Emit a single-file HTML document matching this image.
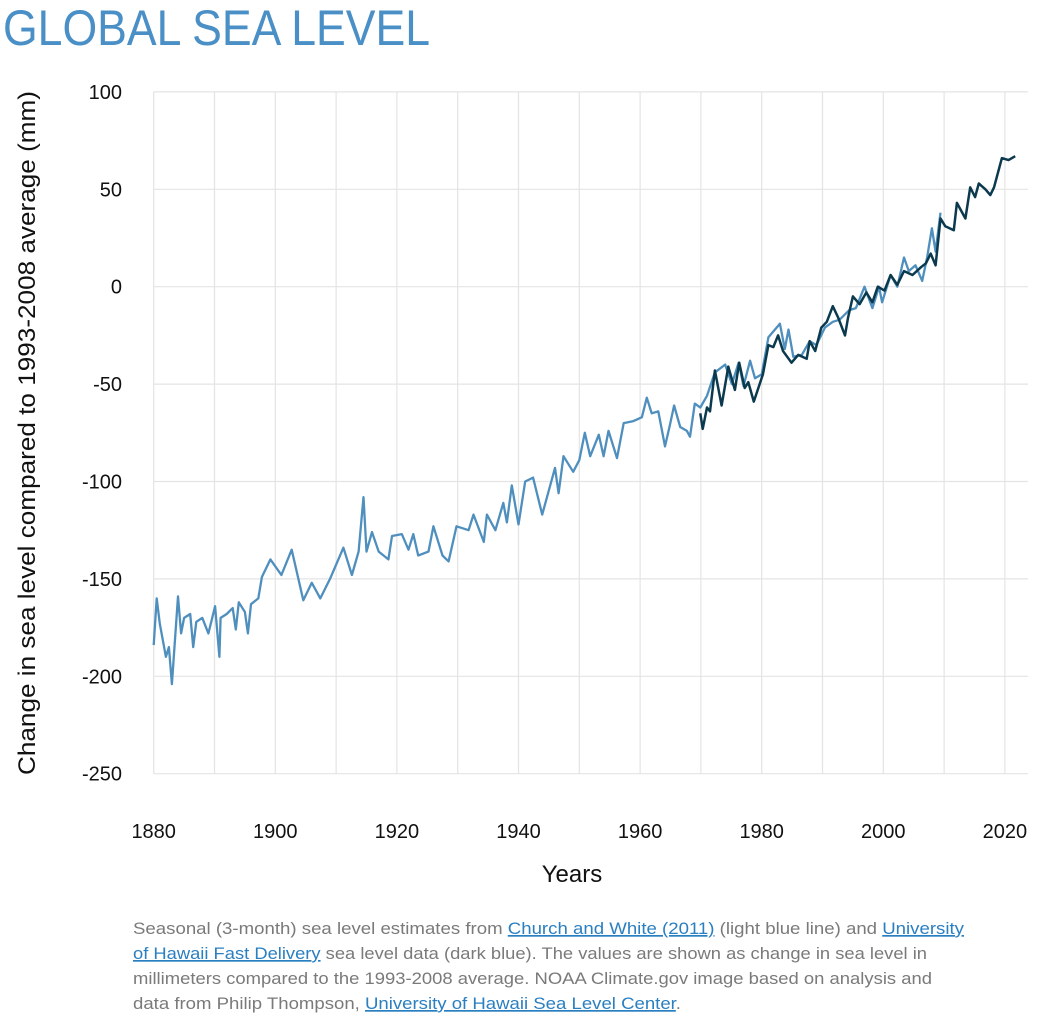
<!DOCTYPE html>
<html><head><meta charset="utf-8"><style>
html,body{margin:0;padding:0;background:#fff;}
svg{display:block;font-family:"Liberation Sans",sans-serif;}
</style></head><body>
<svg id="chart" width="1058" height="1024" viewBox="0 0 1058 1024">
<text x="3" y="45" font-size="50" fill="#4a8fc6" textLength="427" lengthAdjust="spacingAndGlyphs">GLOBAL SEA LEVEL</text>
<g id="grid"></g>
<g id="yticks"></g>
<g id="xticks"></g>
<text transform="translate(35,433) rotate(-90)" text-anchor="middle" font-size="24" fill="#111" textLength="684" lengthAdjust="spacingAndGlyphs">Change in sea level compared to 1993-2008 average (mm)</text>
<text x="572" y="882" text-anchor="middle" font-size="24" fill="#111">Years</text>
<g id="series"></g>
<g font-size="17" fill="#7a7a7a">
<text x="133" y="934" textLength="831" lengthAdjust="spacingAndGlyphs">Seasonal (3-month) sea level estimates from <tspan fill="#2a7fc1" text-decoration="underline">Church and White (2011)</tspan> (light blue line) and <tspan fill="#2a7fc1" text-decoration="underline">University</tspan></text>
<text x="133" y="959" textLength="794" lengthAdjust="spacingAndGlyphs"><tspan fill="#2a7fc1" text-decoration="underline">of Hawaii Fast Delivery</tspan> sea level data (dark blue). The values are shown as change in sea level in</text>
<text x="133" y="984" textLength="799" lengthAdjust="spacingAndGlyphs">millimeters compared to the 1993-2008 average. NOAA Climate.gov image based on analysis and</text>
<text x="133" y="1009" textLength="548" lengthAdjust="spacingAndGlyphs">data from Philip Thompson, <tspan fill="#2a7fc1" text-decoration="underline">University of Hawaii Sea Level Center</tspan>.</text>
</g>
</svg>
<script>
const yTicks=[100,50,0,-50,-100,-150,-200,-250];
const xTicks=[1880,1900,1920,1940,1960,1980,2000,2020];
const xGridYears=[1880,1890,1900,1910,1920,1930,1940,1950,1960,1970,1980,1990,2000,2010,2020];
const lightYears=[1880,1880.5,1881,1882,1882.5,1883,1884,1884.5,1885,1886,1886.5,1887,1888,1889,1890.1,1890.8,1891,1892,1893,1893.5,1894,1895,1895.5,1896,1897.2,1897.8,1899.2,1901,1902.7,1904.6,1906,1907.4,1909,1911.2,1912.6,1913.7,1914.5,1915,1915.9,1917,1918.6,1919.2,1920.8,1921.9,1922.7,1923.5,1925.2,1926,1927.5,1928.5,1929.8,1931.8,1932.6,1934.3,1934.8,1936.2,1937.5,1938.1,1938.9,1940,1941.1,1942.4,1943.9,1946,1946.6,1947.4,1949,1950,1950.9,1951.8,1953.2,1954,1954.8,1956.2,1957.3,1958.9,1960.3,1961.1,1961.9,1963,1964.1,1964.9,1965.6,1966.6,1967.7,1968.2,1969,1969.9,1971,1972.3,1974,1975.1,1976.2,1977,1978.1,1978.9,1980,1981.1,1983,1983.8,1984.4,1985.2,1986.6,1987.9,1989,1990.4,1991.7,1992.8,1994.4,1995.5,1996.9,1998.2,1999.3,1999.8,2001.2,2002.3,2003.4,2004.2,2005.3,2006.4,2007.2,2008,2008.6,2009.4];
const lightValues=[-184,-160,-173,-190,-185,-204,-159,-178,-170,-168,-185,-172,-170,-178,-164,-190,-170,-168,-165,-176,-162,-167,-178,-163,-160,-149,-140,-148,-135,-161,-152,-160,-150,-134,-148,-136,-108,-136,-126,-136,-140,-128,-127,-135,-127,-138,-136,-123,-138,-141,-123,-125,-117,-131,-117,-125,-111,-121,-102,-122,-100,-98,-117,-93,-106,-87,-95,-89,-75,-87,-76,-87,-74,-88,-70,-69,-67,-57,-65,-64,-82,-71,-61,-72,-74,-77,-60,-62,-56,-44,-40,-50,-39,-51,-38,-47,-45,-26,-19,-32,-22,-36,-35,-28,-30,-21,-18,-17,-12,-11,0,-11,0,-8,6,0,15,8,11,3,15,30,18,38];
const darkYears=[1969.9,1970.3,1971,1971.5,1972.3,1973.4,1974.5,1975.6,1976.3,1977.2,1977.8,1978.7,1980.2,1981.1,1981.9,1982.7,1983.5,1984.9,1986,1987.4,1987.9,1988.8,1989.8,1990.7,1991.7,1992.6,1993.7,1994.2,1995,1996.1,1997.2,1998.2,1999.1,2000.2,2001.2,2002.3,2003.4,2004.8,2006.2,2007,2007.8,2008.6,2009.4,2010.2,2011.6,2012.1,2013.5,2014.3,2015.1,2015.7,2016.8,2017.6,2018.2,2019.5,2020.6,2021.7];
const darkValues=[-65,-73,-62,-64,-43,-61,-41,-53,-39,-52,-49,-59,-45,-30,-31,-25,-33,-39,-35,-37,-28,-33,-21,-18,-10,-16,-25,-16,-5,-9,-3,-8,0,-2,6,1,8,6,10,12,17,11,35,31,29,43,35,51,46,53,50,47,51,66,65,67];

const NS='http://www.w3.org/2000/svg';
const X0=153.7,XW=60.8/10,Y0=286.7,YK=97.4/50;
function xs(y){return X0+(y-1880)*XW;}
function ys(v){return Y0-v*YK;}
function mk(tag,attrs,parent){const e=document.createElementNS(NS,tag);for(const k in attrs)e.setAttribute(k,attrs[k]);parent.appendChild(e);return e;}
const grid=document.getElementById('grid');
xGridYears.forEach(yr=>{
  const l=mk('line',{x1:xs(yr),x2:xs(yr),y1:ys(100),y2:ys(-250),stroke:'#e4e4e4','stroke-width':1.2},grid);
  
  
});
const yt=document.getElementById('yticks');
yTicks.forEach(v=>{
  const l=mk('line',{x1:X0,x2:1028,y1:ys(v),y2:ys(v),stroke:'#e4e4e4','stroke-width':1.2},grid);
  
  
  const t=mk('text',{x:122,y:ys(v)+7,'text-anchor':'end','font-size':20,fill:'#111'},yt);
  t.textContent=v;
  
  
});
const xt=document.getElementById('xticks');
xTicks.forEach(yr=>{
  const t=mk('text',{x:xs(yr),y:838,'text-anchor':'middle','font-size':20,fill:'#111'},xt);
  t.textContent=yr;
  
  
});
const s=document.getElementById('series');
function pts(xa,va){return xa.map((x,i)=>xs(x).toFixed(1)+','+ys(va[i]).toFixed(1)).join(' ');}
const lp=mk('polyline',{points:pts(lightYears,lightValues),fill:'none',stroke:'#4f8fbe','stroke-width':2.3,'stroke-linejoin':'round'},s);


const dp=mk('polyline',{points:pts(darkYears,darkValues),fill:'none',stroke:'#0b3a4e','stroke-width':2.5,'stroke-linejoin':'round'},s);


</script>
</body></html>
